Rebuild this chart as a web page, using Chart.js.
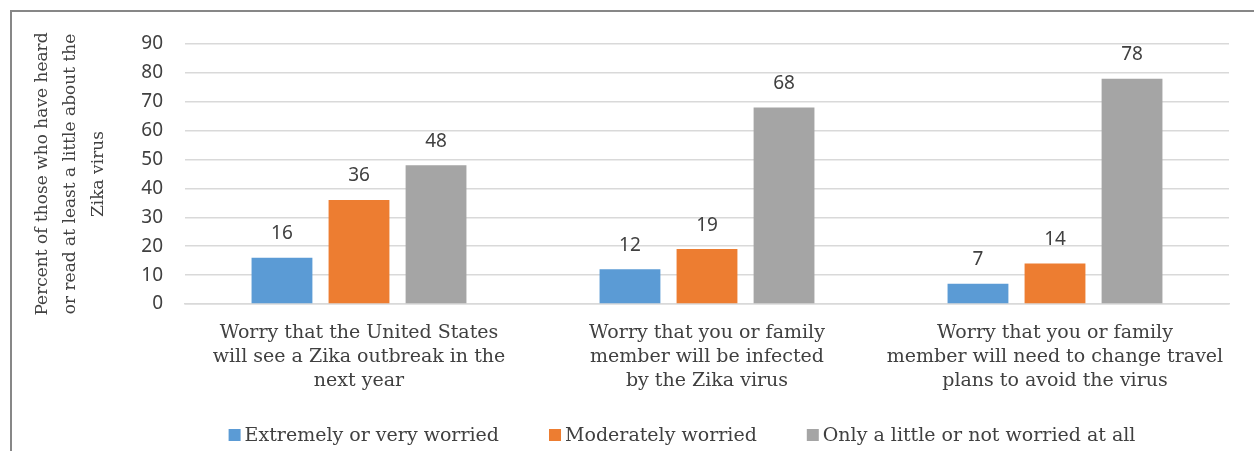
<!DOCTYPE html>
<html>
<head>
<meta charset="utf-8">
<title>Zika</title>
<script src="https://cdn.jsdelivr.net/npm/chart.js@4/dist/chart.umd.min.js"></script>
<style>
   html, body {
      margin: 0;
      padding: 0;
      background: #fff;
   }
   #chart-wrap {
      position: relative;
      width: 1254px;
      height: 451px;
   }
</style>
</head>
<body>
<div id="chart-wrap">
   <canvas id="chart-zika"></canvas>
</div>
<script>
var categorias = [
   ["Worry that the United States", "will see a Zika outbreak in the", "next year"],
   ["Worry that you or family", "member will be infected", "by the Zika virus"],
   ["Worry that you or family", "member will need to change travel", "plans to avoid the virus"],
];
var extremo = [16, 12, 7];
var moderado = [36, 19, 14];
var poco = [48, 68, 78];
var series = ["Extremely or very worried", "Moderately worried", "Only a little or not worried at all"];
var colores = ["#5b9bd5", "#ed7d31", "#a5a5a5"];
var tituloY = ["Percent of those who have heard", "or read at least a little about the", "Zika virus"];

var fuenteSerif = "'DejaVu Serif', serif";
var fuenteSans = "'Noto Sans', sans-serif";
var colorTexto = "#404040";

// marco gris arriba e izquierda
var marco = {
   id: "marco",
   beforeDraw: function (chart) {
      var ctx = chart.ctx;
      ctx.save();
      ctx.strokeStyle = "#878787";
      ctx.lineWidth = 2;
      ctx.beginPath();
      ctx.moveTo(11, chart.height);
      ctx.lineTo(11, 11);
      ctx.lineTo(chart.width, 11);
      ctx.stroke();
      ctx.restore();
   },
};

// valores encima de cada barra
var etiquetas = {
   id: "etiquetas",
   afterDatasetsDraw: function (chart) {
      var ctx = chart.ctx;
      ctx.save();
      ctx.font = "19px " + fuenteSans;
      ctx.fillStyle = colorTexto;
      ctx.textAlign = "center";
      ctx.textBaseline = "middle";
      chart.data.datasets.forEach(function (ds, i) {
         chart.getDatasetMeta(i).data.forEach(function (bar, j) {
            ctx.fillText(String(ds.data[j]), bar.x, bar.y - 24);
         });
      });
      ctx.restore();
   },
};

// leyenda abajo
var leyenda = {
   id: "leyenda",
   afterDraw: function (chart) {
      var ctx = chart.ctx;
      var caja = 12;
      var hueco = 4;
      var separa = 50;
      var y = 435;
      ctx.save();
      ctx.font = "19px " + fuenteSerif;
      ctx.textBaseline = "middle";
      ctx.textAlign = "left";
      var anchos = chart.data.datasets.map(function (ds) {
         return ctx.measureText(ds.label).width;
      });
      var total = 0;
      anchos.forEach(function (w) {
         total += caja + hueco + w;
      });
      total += separa * (anchos.length - 1);
      var x = 682 - total / 2;
      chart.data.datasets.forEach(function (ds, i) {
         ctx.fillStyle = ds.backgroundColor;
         ctx.fillRect(x, y - caja / 2, caja, caja);
         ctx.fillStyle = colorTexto;
         ctx.fillText(ds.label, x + caja + hueco, y + 1);
         x += caja + hueco + anchos[i] + separa;
      });
      ctx.restore();
   },
};

function ChartZika() {
   var ctx = document.getElementById("chart-zika").getContext("2d");

   if (window.grafica) {
      window.grafica.destroy();
   }

   window.grafica = new Chart(ctx, {
      type: "bar",
      plugins: [marco, etiquetas, leyenda],
      data: {
         labels: categorias,
         datasets: [
            {
               label: series[0],
               data: extremo,
               backgroundColor: colores[0],
            },
            {
               label: series[1],
               data: moderado,
               backgroundColor: colores[1],
            },
            {
               label: series[2],
               data: poco,
               backgroundColor: colores[2],
            },
         ],
      },
      options: {
         responsive: true,
         maintainAspectRatio: false,
         animation: false,
         categoryPercentage: 0.664,
         barPercentage: 0.79,
         layout: {
            padding: {
               left: 0,
               right: 25,
               top: 44,
               bottom: 0,
            },
         },
         plugins: {
            legend: {
               display: false,
            },
            tooltip: {
               enabled: false,
            },
         },
         scales: {
            y: {
               min: 0,
               max: 90,
               afterFit: function (scale) {
                  scale.width = 185;
               },
               border: {
                  display: false,
               },
               grid: {
                  drawTicks: false,
                  color: "#d9d9d9",
                  lineWidth: 1.5,
               },
               ticks: {
                  stepSize: 10,
                  padding: 22,
                  color: colorTexto,
                  font: {
                     size: 19,
                     family: fuenteSans,
                  },
               },
               title: {
                  display: true,
                  text: tituloY,
                  color: colorTexto,
                  padding: {
                     top: 29,
                     bottom: 0,
                  },
                  font: {
                     size: 17,
                     family: fuenteSerif,
                     lineHeight: 28 / 17,
                  },
               },
            },
            x: {
               afterFit: function (scale) {
                  scale.height = 147;
               },
               border: {
                  display: true,
                  color: "#d9d9d9",
                  width: 1.5,
               },
               grid: {
                  display: false,
                  drawTicks: false,
               },
               ticks: {
                  padding: 17,
                  color: colorTexto,
                  maxRotation: 0,
                  autoSkip: false,
                  font: {
                     size: 19,
                     family: fuenteSerif,
                     lineHeight: 24 / 19,
                  },
               },
            },
         },
      },
   });
}

ChartZika();
</script>
</body>
</html>
